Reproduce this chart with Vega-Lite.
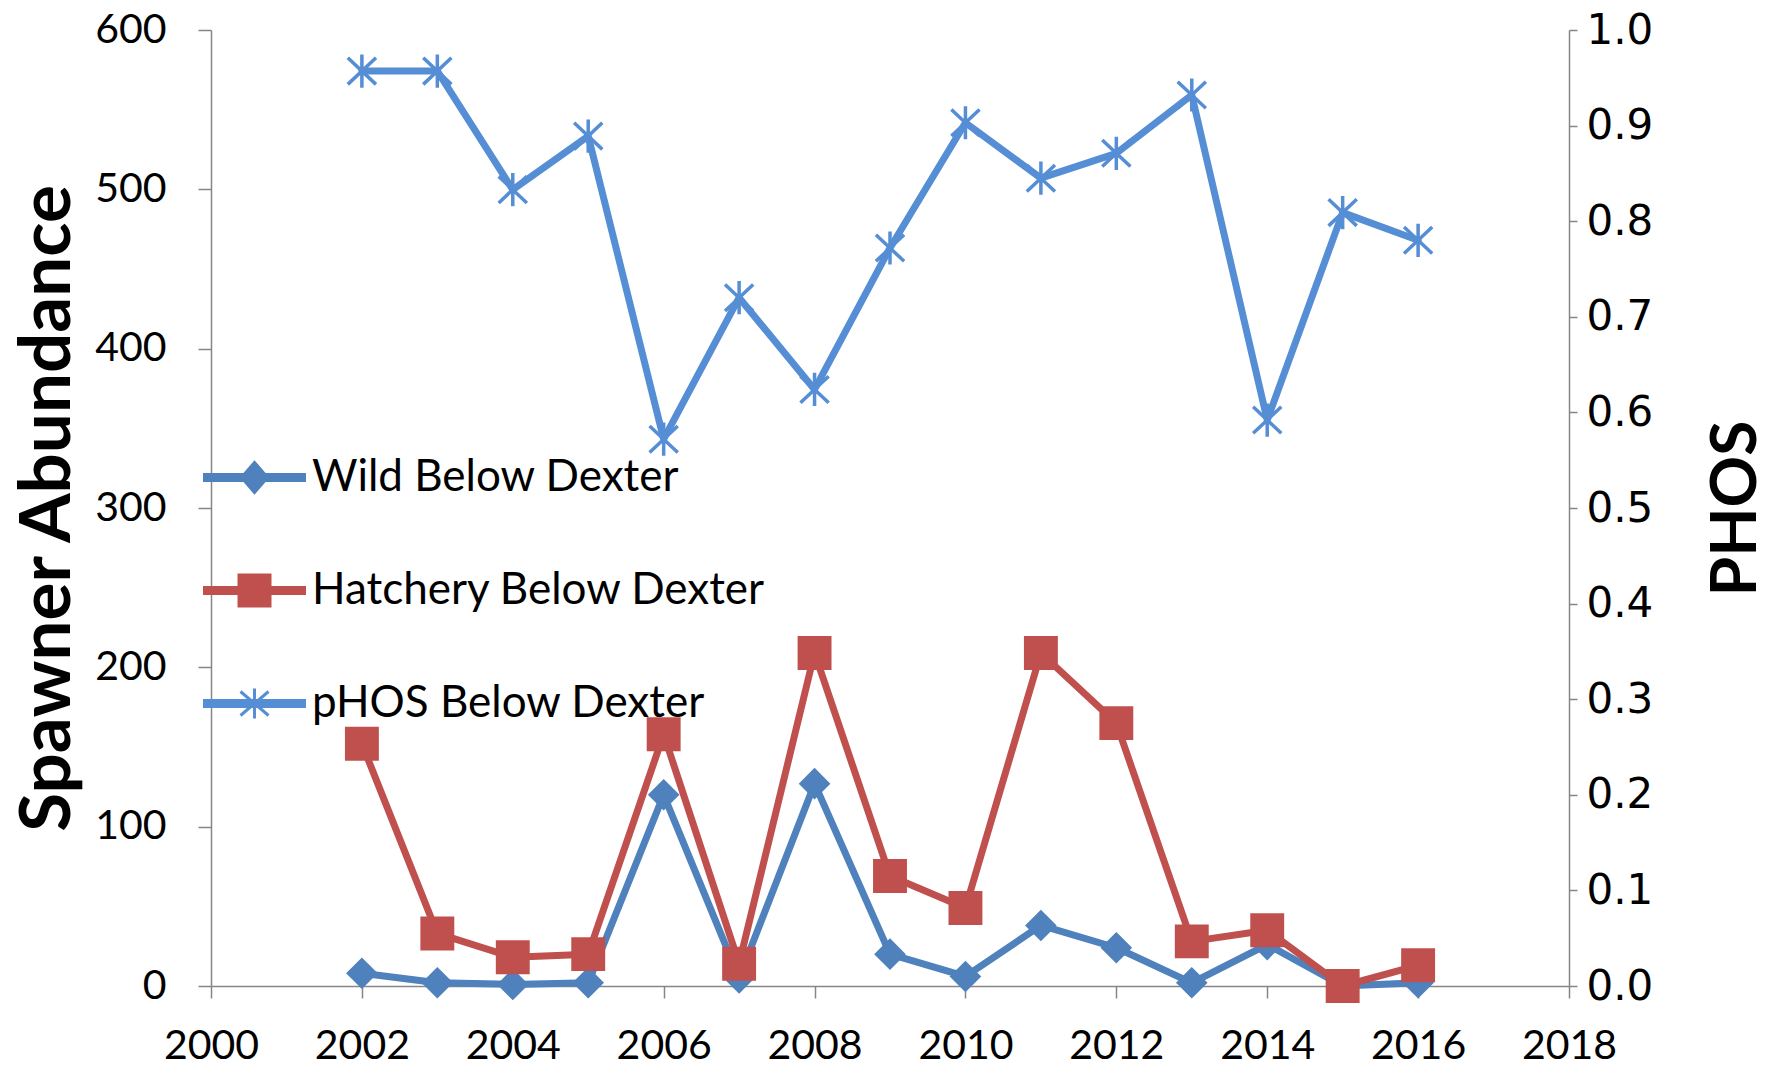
{
  "$schema": "https://vega.github.io/schema/vega-lite/v6.json",
  "width": 1358,
  "height": 956,
  "autosize": {"type": "none"},
  "padding": {"left": 211, "top": 30, "right": 202, "bottom": 85},
  "background": "white",
  "config": {"view": {"stroke": null}, "font": "Lato"},
  "datasets": {
    "abund": [
      {"year": 2002, "series": "Wild Below Dexter", "value": 8},
      {"year": 2003, "series": "Wild Below Dexter", "value": 2},
      {"year": 2004, "series": "Wild Below Dexter", "value": 1},
      {"year": 2005, "series": "Wild Below Dexter", "value": 2},
      {"year": 2006, "series": "Wild Below Dexter", "value": 120},
      {"year": 2007, "series": "Wild Below Dexter", "value": 5},
      {"year": 2008, "series": "Wild Below Dexter", "value": 127},
      {"year": 2009, "series": "Wild Below Dexter", "value": 20},
      {"year": 2010, "series": "Wild Below Dexter", "value": 6},
      {"year": 2011, "series": "Wild Below Dexter", "value": 38},
      {"year": 2012, "series": "Wild Below Dexter", "value": 24},
      {"year": 2013, "series": "Wild Below Dexter", "value": 2},
      {"year": 2014, "series": "Wild Below Dexter", "value": 26},
      {"year": 2015, "series": "Wild Below Dexter", "value": 0},
      {"year": 2016, "series": "Wild Below Dexter", "value": 2},
      {"year": 2002, "series": "Hatchery Below Dexter", "value": 152},
      {"year": 2003, "series": "Hatchery Below Dexter", "value": 33},
      {"year": 2004, "series": "Hatchery Below Dexter", "value": 18},
      {"year": 2005, "series": "Hatchery Below Dexter", "value": 20},
      {"year": 2006, "series": "Hatchery Below Dexter", "value": 158},
      {"year": 2007, "series": "Hatchery Below Dexter", "value": 14},
      {"year": 2008, "series": "Hatchery Below Dexter", "value": 209},
      {"year": 2009, "series": "Hatchery Below Dexter", "value": 69},
      {"year": 2010, "series": "Hatchery Below Dexter", "value": 49},
      {"year": 2011, "series": "Hatchery Below Dexter", "value": 209},
      {"year": 2012, "series": "Hatchery Below Dexter", "value": 165},
      {"year": 2013, "series": "Hatchery Below Dexter", "value": 28},
      {"year": 2014, "series": "Hatchery Below Dexter", "value": 35},
      {"year": 2015, "series": "Hatchery Below Dexter", "value": 0},
      {"year": 2016, "series": "Hatchery Below Dexter", "value": 13}
    ],
    "phos": [
      {"year": 2002, "phos": 0.957},
      {"year": 2003, "phos": 0.957},
      {"year": 2004, "phos": 0.833},
      {"year": 2005, "phos": 0.889},
      {"year": 2006, "phos": 0.572},
      {"year": 2007, "phos": 0.72},
      {"year": 2008, "phos": 0.624},
      {"year": 2009, "phos": 0.772},
      {"year": 2010, "phos": 0.903},
      {"year": 2011, "phos": 0.845},
      {"year": 2012, "phos": 0.871},
      {"year": 2013, "phos": 0.932},
      {"year": 2014, "phos": 0.592},
      {"year": 2015, "phos": 0.809},
      {"year": 2016, "phos": 0.78}
    ]
  },
  "layer": [
    {
      "data": {"name": "abund"},
      "encoding": {
        "x": {
          "field": "year", "type": "quantitative",
          "scale": {"domain": [2000, 2018], "nice": false, "zero": false},
          "axis": {
            "title": null, "values": [2000, 2002, 2004, 2006, 2008, 2010, 2012, 2014, 2016, 2018],
            "format": "d", "grid": false,
            "labelFont": "Lato", "labelFontSize": 41, "labelColor": "black", "labelPadding": 28,
            "tickSize": 12, "tickColor": "#868686", "tickWidth": 1.5,
            "domainColor": "#868686", "domainWidth": 1.5, "labelFlush": false, "labelOverlap": false
          }
        },
        "y": {
          "field": "value", "type": "quantitative",
          "scale": {"domain": [0, 600], "nice": false},
          "axis": {
            "title": "Spawner Abundance", "titleFont": "Lato", "titleFontSize": 71, "titleFontWeight": "bold",
            "titleColor": "black", "titleX": -163, "titleBaseline": "middle",
            "values": [0, 100, 200, 300, 400, 500, 600], "grid": false,
            "labelFont": "Lato", "labelFontSize": 41, "labelColor": "black", "labelPadding": 32,
            "tickSize": 13, "tickColor": "#868686", "tickWidth": 1.5,
            "domainColor": "#868686", "domainWidth": 1.5, "labelFlush": false, "labelOverlap": false
          }
        }
      },
      "layer": [
        {
          "transform": [{"filter": "datum.series === 'Wild Below Dexter'"}],
          "mark": {"type": "line", "color": "#4F81BD", "strokeWidth": 7, "strokeJoin": "round", "strokeCap": "round"}
        },
        {
          "transform": [{"filter": "datum.series === 'Wild Below Dexter'"}],
          "mark": {"type": "point", "shape": "diamond", "filled": true, "size": 1000, "color": "#4F81BD", "opacity": 1}
        },
        {
          "transform": [{"filter": "datum.series === 'Hatchery Below Dexter'"}],
          "mark": {"type": "line", "color": "#C0504D", "strokeWidth": 7, "strokeJoin": "round", "strokeCap": "round"}
        },
        {
          "transform": [{"filter": "datum.series === 'Hatchery Below Dexter'"}],
          "mark": {"type": "point", "shape": "square", "filled": true, "size": 1150, "color": "#C0504D", "opacity": 1}
        },
        {
          "transform": [{"filter": "datum.year < 0"}],
          "mark": {"type": "point", "filled": true, "opacity": 1},
          "encoding": {
            "fill": {
              "field": "series", "type": "nominal",
              "scale": {"domain": ["Wild Below Dexter", "Hatchery Below Dexter", "pHOS Below Dexter"], "range": ["#4F81BD", "#C0504D", "#558ED5"]},
              "legend": {"orient": "none", "legendX": -8, "legendY": 396, "title": null, "symbolSize": 10000, "symbolStrokeWidth": 3, "symbolOpacity": 1, "labelFont": "Lato", "labelFontSize": 44, "labelColor": "black", "labelOffset": 6, "rowPadding": 39, "padding": 0, "labelLimit": 1000}
            },
            "stroke": {
              "field": "series", "type": "nominal",
              "scale": {"domain": ["Wild Below Dexter", "Hatchery Below Dexter", "pHOS Below Dexter"], "range": ["#4F81BD", "#C0504D", "#558ED5"]},
              "legend": {"orient": "none", "legendX": -8, "legendY": 396, "title": null, "symbolSize": 10000, "symbolStrokeWidth": 3, "symbolOpacity": 1, "labelFont": "Lato", "labelFontSize": 44, "labelColor": "black", "labelOffset": 6, "rowPadding": 39, "padding": 0, "labelLimit": 1000}
            },
            "shape": {
              "field": "series", "type": "nominal",
              "scale": {
                "domain": ["Wild Below Dexter", "Hatchery Below Dexter", "pHOS Below Dexter"],
                "range": [
                  "M-1,-0.06H1V0.06H-1Z M0,-0.3L0.26,0L0,0.3L-0.26,0Z",
                  "M-1,-0.06H1V0.06H-1Z M-0.31,-0.31H0.31V0.31H-0.31Z",
                  "M-1,-0.06H1V0.06H-1Z M0,-0.3V0.3 M-0.28,-0.24L0.28,0.24 M-0.28,0.24L0.28,-0.24"
                ]
              },
              "legend": {"orient": "none", "legendX": -8, "legendY": 396, "title": null, "symbolSize": 10000, "symbolStrokeWidth": 3, "symbolOpacity": 1, "labelFont": "Lato", "labelFontSize": 44, "labelColor": "black", "labelOffset": 6, "rowPadding": 39, "padding": 0, "labelLimit": 1000}
            }
          }
        }
      ]
    },
    {
      "data": {"name": "phos"},
      "encoding": {
        "x": {
          "field": "year", "type": "quantitative",
          "scale": {"domain": [2000, 2018], "nice": false, "zero": false},
          "axis": {
            "title": null, "values": [2000, 2002, 2004, 2006, 2008, 2010, 2012, 2014, 2016, 2018],
            "format": "d", "grid": false,
            "labelFont": "Lato", "labelFontSize": 41, "labelColor": "black", "labelPadding": 28,
            "tickSize": 12, "tickColor": "#868686", "tickWidth": 1.5,
            "domainColor": "#868686", "domainWidth": 1.5, "labelFlush": false, "labelOverlap": false
          }
        },
        "y": {
          "field": "phos", "type": "quantitative",
          "scale": {"domain": [0, 1], "nice": false},
          "axis": {
            "orient": "right", "title": "PHOS", "titleFont": "Lato", "titleFontSize": 64, "titleFontWeight": "bold",
            "titleColor": "black", "titleAngle": -90, "titleX": 167, "titleBaseline": "middle",
            "values": [0, 0.1, 0.2, 0.3, 0.4, 0.5, 0.6, 0.7, 0.8, 0.9, 1.0], "format": ".1f", "grid": false,
            "labelFont": "DejaVu Sans", "labelFontSize": 42, "labelColor": "black", "labelPadding": 9,
            "tickSize": 8, "tickColor": "#868686", "tickWidth": 1.5,
            "domainColor": "#868686", "domainWidth": 1.5, "labelFlush": false, "labelOverlap": false
          }
        }
      },
      "layer": [
        {"mark": {"type": "line", "color": "#558ED5", "strokeWidth": 7, "strokeJoin": "round", "strokeCap": "round"}},
        {"mark": {"type": "point", "shape": "M0,-1V1 M-0.85,-0.8L0.85,0.8 M-0.85,0.8L0.85,-0.8", "filled": false, "size": 1100, "strokeWidth": 3.5, "color": "#558ED5", "opacity": 1}}
      ]
    }
  ],
  "resolve": {"scale": {"y": "independent"}}
}
